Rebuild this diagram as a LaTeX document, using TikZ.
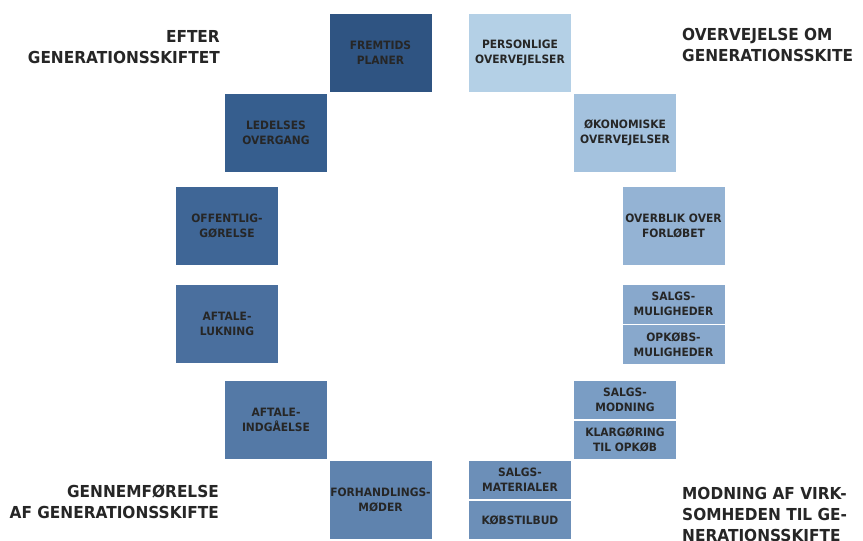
\documentclass[tikz,border=0pt]{standalone}
\usepackage{fontspec}
\setmainfont{DejaVu Sans}[FakeStretch=0.93]
\usepackage{tikz}
\usetikzlibrary{positioning}

\definecolor{txt}{RGB}{38,38,38}
\definecolor{stepA}{RGB}{47,84,130}
\definecolor{stepB}{RGB}{180,208,230}
\definecolor{stepC}{RGB}{54,94,142}
\definecolor{stepD}{RGB}{164,194,222}
\definecolor{stepE}{RGB}{63,102,150}
\definecolor{stepF}{RGB}{148,179,212}
\definecolor{stepG}{RGB}{74,111,158}
\definecolor{stepH}{RGB}{136,168,204}
\definecolor{stepI}{RGB}{84,121,166}
\definecolor{stepJ}{RGB}{122,157,196}
\definecolor{stepK}{RGB}{95,131,174}
\definecolor{stepL}{RGB}{108,143,184}

\begin{document}
\begin{tikzpicture}[x=1pt,y=-1pt,node distance=0pt,
                    every node/.style={font=\bfseries\fontsize{11.5}{15}\selectfont,
                                       text=txt,align=center}]
  \tikzstyle{box}=[draw=white,line width=0.8pt,inner sep=0pt,
                   minimum width=103pt,minimum height=79pt]
  \tikzstyle{half}=[box,minimum height=39.5pt]
  \tikzstyle{phase}=[font=\bfseries\fontsize{16.5}{21}\selectfont,inner sep=0pt]

  \useasboundingbox (0,0) rectangle (863,541);

  \node[box,fill=stepA]  (A)  at (380.5,52.5) {FREMTIDS\\PLANER};
  \node[box,fill=stepB]  (B)  at (520,52.5)   {PERSONLIGE\\OVERVEJELSER};
  \node[box,fill=stepC]  (C)  at (276,132.5)  {LEDELSES\\OVERGANG};
  \node[box,fill=stepD]  (D)  at (625,132.5)  {ØKONOMISKE\\OVERVEJELSER};
  \node[box,fill=stepE]  (E)  at (227,225.5)  {OFFENTLIG-\\GØRELSE};
  \node[box,fill=stepF]  (F)  at (673.5,226) {OVERBLIK OVER\\FORLØBET};
  \node[box,fill=stepG]  (G)  at (227,324)    {AFTALE-\\LUKNING};
  \node[half,fill=stepH] (H)  at (673.5,304.25) {SALGS-\\MULIGHEDER};
  \node[half,fill=stepH] (Hb) [below=of H]    {OPKØBS-\\MULIGHEDER};
  \node[box,fill=stepI]  (I)  at (276,419.5)  {AFTALE-\\INDGÅELSE};
  \node[half,fill=stepJ] (J)  at (625,399.75) {SALGS-\\MODNING};
  \node[half,fill=stepJ] (Jb) [below=of J]    {KLARGØRING\\TIL OPKØB};
  \node[box,fill=stepK]  (K)  at (380.5,499.5) {FORHANDLINGS-\\MØDER};
  \node[half,fill=stepL] (L)  at (520,479.75) {SALGS-\\MATERIALER};
  \node[half,fill=stepL] (Lb) [below=of L]    {KØBSTILBUD};

  \node[phase,align=right,anchor=north east] (P1) at (220,30)
    {EFTER\\GENERATIONSSKIFTET};
  \node[phase,align=left,anchor=north west] (P2) at (682,28)
    {OVERVEJELSE OM\\GENERATIONSSKITE};
  \node[phase,align=right,anchor=north east] (P3) at (219,485)
    {GENNEMFØRELSE\\AF GENERATIONSSKIFTE};
  \node[phase,align=left,anchor=north west] (P4) at (682,487)
    {MODNING AF VIRK-\\SOMHEDEN TIL GE-\\NERATIONSSKIFTE};
\end{tikzpicture}
\end{document}
